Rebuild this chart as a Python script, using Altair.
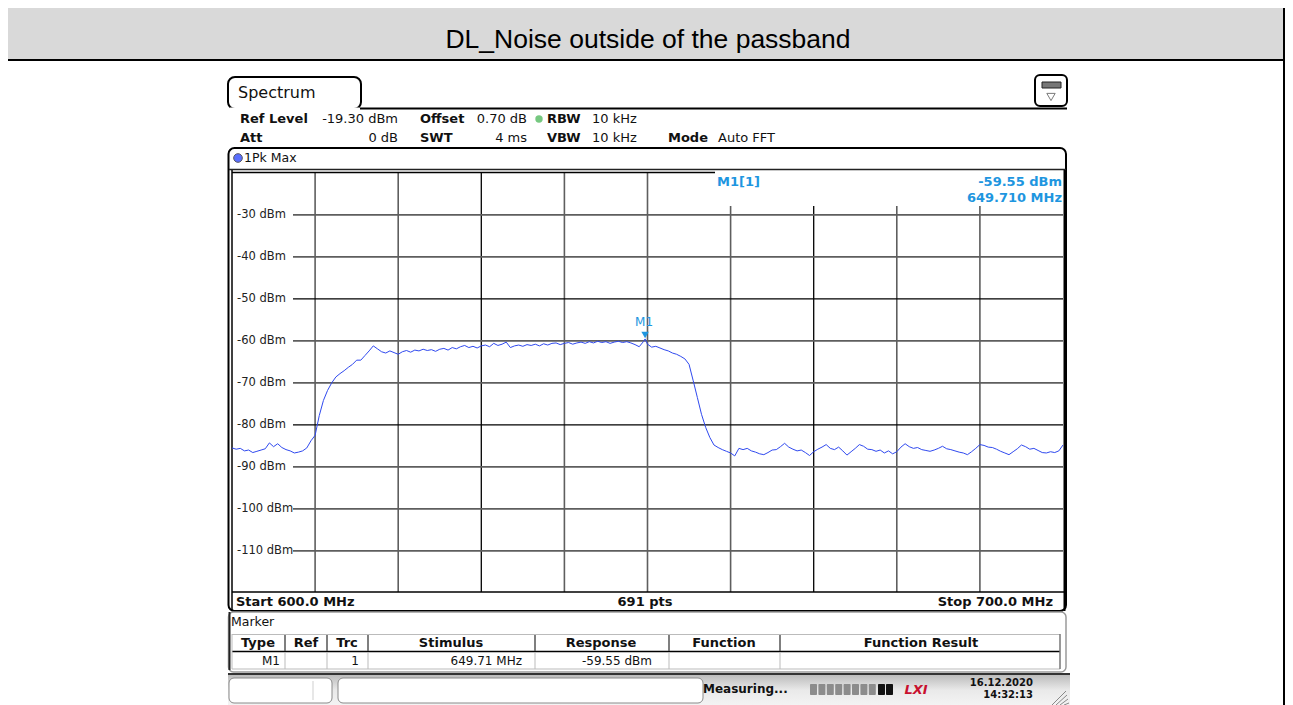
import altair as alt
import pandas as pd

# ---------------- data ----------------
freq_mhz = [600.0, 600.5, 601.0, 601.5, 602.0, 602.5, 603.0, 603.5, 604.0, 604.5,
            605.0, 605.5, 606.0, 606.5, 607.0, 607.5, 608.0, 608.5, 609.0, 609.5,
            610.0, 610.5, 611.0, 611.5, 612.0, 612.5, 613.0, 613.5, 614.0, 614.5,
            615.0, 615.5, 616.0, 616.5, 617.0, 617.5, 618.0, 618.5, 619.0, 619.5,
            620.0, 620.5, 621.0, 621.5, 622.0, 622.5, 623.0, 623.5, 624.0, 624.5,
            625.0, 625.5, 626.0, 626.5, 627.0, 627.5, 628.0, 628.5, 629.0, 629.5,
            630.0, 630.5, 631.0, 631.5, 632.0, 632.5, 633.0, 633.5, 634.0, 634.5,
            635.0, 635.5, 636.0, 636.5, 637.0, 637.5, 638.0, 638.5, 639.0, 639.5,
            640.0, 640.5, 641.0, 641.5, 642.0, 642.5, 643.0, 643.5, 644.0, 644.5,
            645.0, 645.5, 646.0, 646.5, 647.0, 647.5, 648.0, 648.5, 649.0, 649.5,
            649.71, 650.0, 650.5, 651.0, 651.5, 652.0, 652.5, 653.0, 653.5, 654.0,
            654.5, 655.0, 655.5, 656.0, 656.5, 657.0, 657.5, 658.0, 658.5, 659.0,
            659.5, 660.0, 660.5, 661.0, 661.5, 662.0, 662.5, 663.0, 663.5, 664.0,
            664.5, 665.0, 665.5, 666.0, 666.5, 667.0, 667.5, 668.0, 668.5, 669.0,
            669.5, 670.0, 670.5, 671.0, 671.5, 672.0, 672.5, 673.0, 673.5, 674.0,
            674.5, 675.0, 675.5, 676.0, 676.5, 677.0, 677.5, 678.0, 678.5, 679.0,
            679.5, 680.0, 680.5, 681.0, 681.5, 682.0, 682.5, 683.0, 683.5, 684.0,
            684.5, 685.0, 685.5, 686.0, 686.5, 687.0, 687.5, 688.0, 688.5, 689.0,
            689.5, 690.0, 690.5, 691.0, 691.5, 692.0, 692.5, 693.0, 693.5, 694.0,
            694.5, 695.0, 695.5, 696.0, 696.5, 697.0, 697.5, 698.0, 698.5, 699.0,
            699.5, 700.0]
level_dbm = [-85.5, -85.8, -85.6, -86.2, -86.0, -86.6, -86.3, -86.0, -85.7, -84.3,
             -85.2, -84.5, -85.4, -85.9, -86.2, -86.7, -86.5, -86.2, -85.5, -83.8,
             -82.5, -77.8, -74.2, -71.8, -70.0, -68.6, -67.8, -67.1, -66.3, -65.6,
             -64.6, -64.6, -63.5, -62.4, -61.2, -61.9, -62.6, -62.9, -62.4, -62.8,
             -63.2, -62.6, -62.3, -62.7, -62.2, -62.4, -62.0, -62.3, -62.1, -62.5,
             -62.0, -61.8, -62.2, -61.6, -61.9, -61.4, -61.1, -61.6, -61.3, -61.7,
             -61.2, -61.0, -61.4, -60.6, -61.1, -60.8, -60.3, -61.6, -61.2, -61.0,
             -61.3, -60.9, -61.1, -60.8, -61.2, -60.7, -61.0, -60.6, -60.5, -60.9,
             -60.6, -60.4, -60.8, -60.5, -60.3, -60.6, -60.2, -60.5, -60.1, -60.4,
             -60.2, -60.6, -60.3, -60.1, -60.4, -60.2, -60.5, -60.9, -61.4, -60.2,
             -59.55, -60.8, -61.5, -61.3, -61.7, -62.1, -62.4, -62.9, -63.2, -63.7,
             -64.3, -65.6, -69.5, -73.5, -77.5, -80.6, -83.0, -84.8, -85.4, -85.9,
             -86.3, -86.7, -87.4, -85.6, -85.9, -85.6, -86.2, -86.5, -86.9, -87.1,
             -86.6, -86.0, -85.9, -85.2, -84.4, -85.3, -85.8, -86.2, -86.0, -86.6,
             -87.3, -86.4, -85.8, -85.3, -84.7, -85.6, -85.9, -85.3, -86.2, -87.2,
             -86.4, -85.6, -84.7, -85.1, -85.8, -85.9, -86.3, -86.0, -86.7, -86.2,
             -86.9, -86.4, -85.3, -84.5, -85.2, -85.6, -85.4, -85.9, -86.1, -86.3,
             -86.0, -85.6, -85.1, -85.7, -85.9, -86.2, -86.5, -86.7, -87.1, -86.4,
             -85.6, -84.7, -84.9, -85.3, -85.4, -85.8, -86.3, -86.7, -87.1, -86.4,
             -85.7, -84.8, -85.2, -85.8, -85.6, -86.1, -86.6, -86.7, -86.4, -86.6,
             -86.2, -84.8]

grid_freq = [610, 620, 630, 640, 650, 660, 670, 680, 690]
grid_freq_dark = [630, 670]
level_ticks = [-30, -40, -50, -60, -70, -80, -90, -100, -110]
level_ticks_dark = [-50, -80]
y_top, y_bottom = -19.8, -119.8
f_start, f_stop, n_points = 600.0, 700.0, 691

marker_freq = 649.71
marker_level = -59.55

title_text = "DL_Noise outside of the passband"
ref_level, offset_db, att_db, swt_ms, rbw_khz, vbw_khz = -19.30, 0.70, 0, 4, 10, 10

# ---------------- layout helpers ----------------
W, H = 831, 420          # plot area
OX, OY = 232, 172        # page pixel of plot origin
UI = "DejaVu Sans"
BLUE = "#1e96e0"


def one():
    return alt.Chart(pd.DataFrame({"k": [0]}))


def T(s, X, Y, size=13, bold=False, align="left", color="#111", font=UI,
      italic=False, baseline="middle"):
    kw = dict(text=s, align=align, baseline=baseline, fontSize=size, font=font,
              color=color, fontWeight="bold" if bold else "normal")
    if italic:
        kw["fontStyle"] = "italic"
    return one().mark_text(**kw).encode(x=alt.value(X - OX), y=alt.value(Y - OY))


def R(X1, Y1, X2, Y2, fill="transparent", stroke=None, sw=1, r=0):
    kw = dict(fill=fill)
    if stroke:
        kw.update(stroke=stroke, strokeWidth=sw)
    if r:
        kw["cornerRadius"] = r
    return one().mark_rect(**kw).encode(
        x=alt.value(X1 - OX), x2=alt.value(X2 - OX),
        y=alt.value(Y1 - OY), y2=alt.value(Y2 - OY))


def Hl(X1, X2, Y, color="#000", w=1):
    return one().mark_rule(color=color, strokeWidth=w).encode(
        x=alt.value(X1 - OX), x2=alt.value(X2 - OX), y=alt.value(Y - OY))


def Vl(X, Y1, Y2, color="#000", w=1):
    return one().mark_rule(color=color, strokeWidth=w).encode(
        x=alt.value(X - OX), y=alt.value(Y1 - OY), y2=alt.value(Y2 - OY))


def Dl(X1, Y1, X2, Y2, color="#000", w=1):
    return one().mark_rule(color=color, strokeWidth=w).encode(
        x=alt.value(X1 - OX), x2=alt.value(X2 - OX),
        y=alt.value(Y1 - OY), y2=alt.value(Y2 - OY))


xs = alt.Scale(domain=[f_start, f_stop], nice=False, zero=False)
ys = alt.Scale(domain=[y_bottom, y_top], nice=False, zero=False)

layers = []

# ---------------- document table header ----------------
layers += [
    R(2, 3, 1288, 59, fill="#d9d9d9"),
    Hl(0, 1293, 2.5, "#000", 2),
    Hl(0, 1293, 60, "#000", 2),
    Vl(2, 0, 705, "#000", 2),
    Vl(1284, 0, 705, "#000", 2),
    T(title_text, 648, 48, size=26.5, font="Liberation Sans", align="center",
      baseline="alphabetic", color="#000"),
]

# ---------------- instrument header ----------------
layers += [
    R(228, 77, 361, 109, fill="white", stroke="#000", sw=2, r=7),
    Hl(229.5, 359.5, 109, "white", 3),
    Hl(360, 1067, 108.5, "#000", 2),
    R(1035, 75, 1067, 106, fill="white", stroke="#000", sw=2, r=5),
    R(1042, 82, 1061, 88, fill="#777", stroke="#222", sw=1),
    one().mark_point(shape="triangle-down", filled=False, size=70, color="#444",
                     strokeWidth=1).encode(x=alt.value(1051 - OX), y=alt.value(97 - OY)),
    T("Spectrum", 238, 93, size=16),
    T("Ref Level", 240, 119, bold=True),
    T(f"{ref_level:.2f} dBm", 398, 119, align="right"),
    T("Offset", 420, 119, bold=True),
    T(f"{offset_db:.2f} dB", 527, 119, align="right"),
    one().mark_point(shape="circle", filled=True, size=55, color="#3cb04a").encode(
        x=alt.value(539 - OX), y=alt.value(119 - OY)),
    T("RBW", 547, 119, bold=True),
    T(f"{rbw_khz} kHz", 592, 119),
    T("Att", 240, 138, bold=True),
    T(f"{att_db} dB", 398, 138, align="right"),
    T("SWT", 420, 138, bold=True),
    T(f"{swt_ms} ms", 527, 138, align="right"),
    T("VBW", 547, 138, bold=True),
    T(f"{vbw_khz} kHz", 592, 138),
    T("Mode", 668, 138, bold=True),
    T("Auto FFT", 718, 138),
]

# ---------------- trace window frame ----------------
layers += [
    R(228.5, 148, 1066, 611, fill="white", stroke="#000", sw=2, r=6),
    Hl(229, 1066, 169.5, "#222", 1.5),
    one().mark_point(shape="circle", filled=True, size=75, color="#1533ff",
                     stroke="#112", strokeWidth=1).encode(x=alt.value(238 - OX), y=alt.value(158 - OY)),
    T("1Pk Max", 244, 158, size=12.5),
]

# ---------------- grid ----------------
vg_gray = alt.Chart(pd.DataFrame({"f": [f for f in grid_freq if f not in grid_freq_dark]})).mark_rule(
    color="#5e5e5e", strokeWidth=1.6).encode(x=alt.X("f:Q", scale=xs, axis=None),
                                            y=alt.value(0), y2=alt.value(H))
vg_dark = alt.Chart(pd.DataFrame({"f": grid_freq_dark})).mark_rule(
    color="#000", strokeWidth=1.3).encode(x=alt.X("f:Q", scale=xs, axis=None),
                                         y=alt.value(0), y2=alt.value(H))
hg_gray = alt.Chart(pd.DataFrame({"v": [v for v in level_ticks if v not in level_ticks_dark]})).mark_rule(
    color="#5e5e5e", strokeWidth=1.6).encode(y=alt.Y("v:Q", scale=ys, axis=None),
                                            x=alt.value(61), x2=alt.value(W))
hg_dark = alt.Chart(pd.DataFrame({"v": level_ticks_dark})).mark_rule(
    color="#000", strokeWidth=1.3).encode(y=alt.Y("v:Q", scale=ys, axis=None),
                                         x=alt.value(61), x2=alt.value(W))
ylab = alt.Chart(pd.DataFrame({"v": level_ticks,
                               "lab": [f"{v} dBm" for v in level_ticks]})).mark_text(
    align="left", baseline="middle", fontSize=11.5, font=UI, color="#222").encode(
    y=alt.Y("v:Q", scale=ys, axis=None), x=alt.value(5), text="lab:N")
layers += [vg_gray, vg_dark, hg_gray, hg_dark, ylab]

# marker info box (covers grid)
layers += [
    R(714, 171.5, 1063, 206, fill="white"),
    Hl(232, 715, 172.5, "#000", 1.5),
    Vl(232, 170, 611, "#000", 1.5),
    Hl(232, 1065, 592, "#000", 1.5),
    Vl(1064.5, 170, 611, "#000", 2),
    T("M1[1]", 717, 182, bold=True, color=BLUE),
    T(f"{marker_level:.2f} dBm", 1062, 182, bold=True, color=BLUE, align="right"),
    T(f"{marker_freq:.3f} MHz", 1062, 198, bold=True, color=BLUE, align="right"),
]

# ---------------- trace ----------------
trace = alt.Chart(pd.DataFrame({"f": freq_mhz, "l": level_dbm})).mark_line(
    color="#2f49ef", strokeWidth=1, interpolate="linear").encode(
    x=alt.X("f:Q", scale=xs, axis=None), y=alt.Y("l:Q", scale=ys, axis=None))
mk = pd.DataFrame({"f": [marker_freq], "l": [marker_level]})
mk_tri = alt.Chart(mk).mark_point(shape="triangle-down", filled=True, size=55,
                                  color=BLUE, opacity=1, yOffset=-4).encode(
    x=alt.X("f:Q", scale=xs, axis=None), y=alt.Y("l:Q", scale=ys, axis=None))
mk_txt = alt.Chart(mk).mark_text(text="M1", fontSize=12, font=UI, color=BLUE,
                                 dy=-17, dx=-1).encode(
    x=alt.X("f:Q", scale=xs, axis=None), y=alt.Y("l:Q", scale=ys, axis=None))
layers += [trace, mk_tri, mk_txt]

# ---------------- footer ----------------
layers += [
    T(f"Start {f_start:.1f} MHz", 236, 602, bold=True),
    T(f"{n_points} pts", 645, 602, bold=True, align="center"),
    T(f"Stop {f_stop:.1f} MHz", 1053, 602, bold=True, align="right"),
]

# ---------------- marker table ----------------
seps = [285, 327, 368, 535, 669, 780]
layers += [
    R(228.5, 612, 1066, 672, fill="white", stroke="#9a9a9a", sw=1.5, r=5),
    Vl(229.5, 612, 670, "#222", 2),
    T("Marker", 231, 622, size=12.5),
    Hl(232, 1060, 634.5, "#bbb", 1),
    Hl(232, 1060, 651.5, "#000", 1.5),
    Hl(232, 1060, 669, "#bbb", 1),
    Vl(232, 634, 669, "#bbb", 1),
    Vl(1060, 634, 669, "#777", 1.5),
]
for sx in seps:
    layers += [Vl(sx, 635, 651, "#555", 1.5), Vl(sx, 652, 669, "#bbb", 1)]
layers += [
    T("Type", 258, 643, bold=True, align="center"),
    T("Ref", 306, 643, bold=True, align="center"),
    T("Trc", 347, 643, bold=True, align="center"),
    T("Stimulus", 451, 643, bold=True, align="center"),
    T("Response", 601, 643, bold=True, align="center"),
    T("Function", 724, 643, bold=True, align="center"),
    T("Function Result", 921, 643, bold=True, align="center"),
    T("M1", 280, 661, size=12, align="right"),
    T("1", 359, 661, size=12, align="right"),
    T(f"{marker_freq:.2f} MHz", 522, 661, size=12, align="right"),
    T(f"{marker_level:.2f} dBm", 652, 661, size=12, align="right"),
]

# ---------------- status bar ----------------
grad = alt.LinearGradient(gradient="linear", x1=0, x2=0, y1=0, y2=1,
                          stops=[alt.GradientStop(color="#b9b9b9", offset=0),
                                 alt.GradientStop(color="#e9e9e9", offset=0.5),
                                 alt.GradientStop(color="#f4f4f4", offset=1)])
layers += [
    R(228, 674, 1070, 706, fill=grad),
    Hl(228, 1070, 674, "#333", 2),
    R(229, 678, 332, 703, fill="white", stroke="#8a8a8a", sw=1, r=5),
    Vl(313, 681, 700, "#cfcfcf", 1),
    R(338, 678, 703, 703, fill="white", stroke="#8a8a8a", sw=1, r=5),
    T("Measuring...", 703, 689, size=12, bold=True),
]
for i in range(8):
    layers.append(R(810 + i * 8.4, 684, 817 + i * 8.4, 695, fill="#8c8c8c", r=1))
for i in range(2):
    layers.append(R(878 + i * 8, 684, 885 + i * 8, 695, fill="#111", r=1))
layers += [
    T("LXI", 916, 690, size=13, bold=True, italic=True, color="#c8102e", align="center"),
    T("16.12.2020", 1033, 683, size=10, bold=True, align="right"),
    T("14:32:13", 1033, 695, size=10, bold=True, align="right"),
]
for k in range(4):
    layers.append(Dl(1052 + k * 4, 705, 1066 + k * 1, 691 + k * 4, "#888", 1))

TOTAL_W, TOTAL_H = 1277, 697
chart = alt.layer(*layers).properties(
    width=W, height=H,
    padding={"left": 224, "top": 164, "right": TOTAL_W - 224 - W,
             "bottom": TOTAL_H - 164 - H},
    autosize=alt.AutoSizeParams(type="none"),
    background="white",
).configure_view(strokeWidth=0)

chart.save("out.html", embed_options={"renderer": "svg", "actions": False})
